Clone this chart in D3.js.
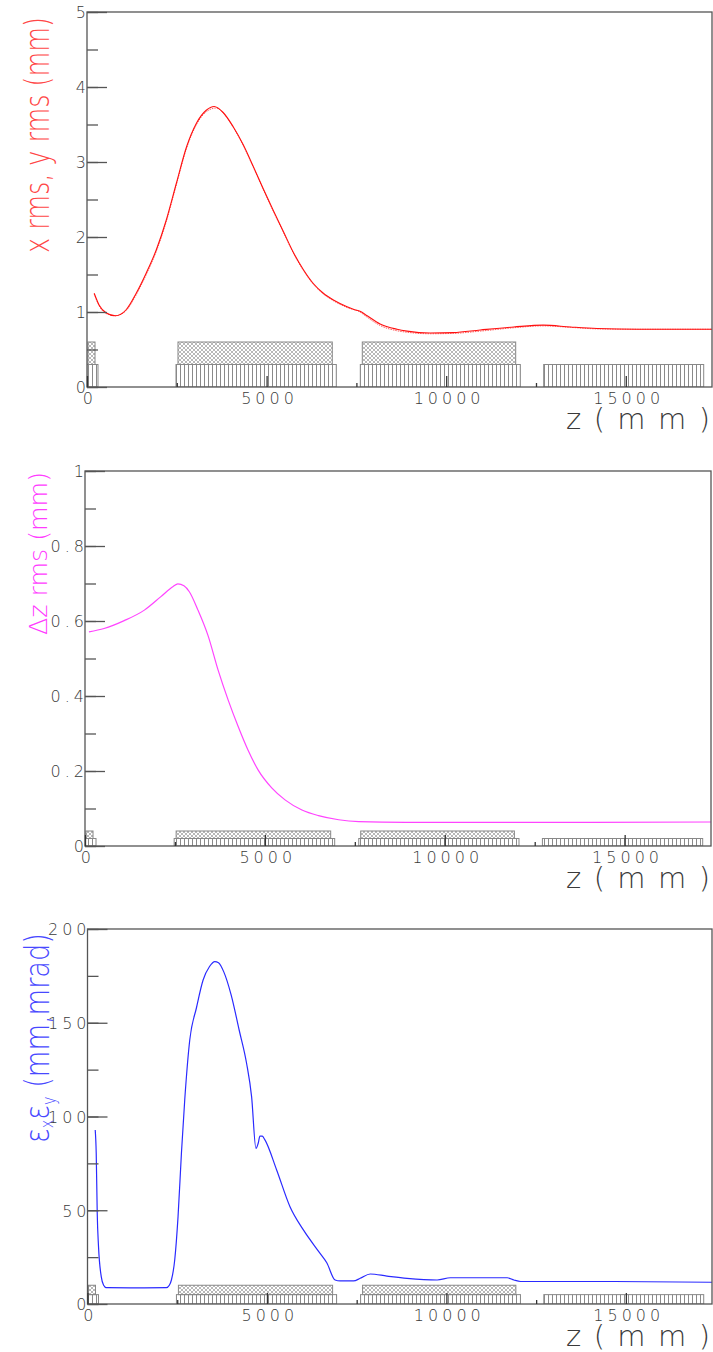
<!DOCTYPE html>
<html>
<head>
<meta charset="utf-8">
<script src="https://cdn.jsdelivr.net/npm/d3@7"></script>
<style>
  body { margin: 0; background: #fff; }
  svg { display: block; }
  .tick text { font-family: "DejaVu Sans", sans-serif; font-weight: 200; fill: #3a3a3a; }
</style>
</head>
<body>
<div id="chart"></div>
<script>
// ---- data ----
var zMajorTicks = [0, 5000, 10000, 15000];
var zMinorTicks = [2500, 7500, 12500];

// beamline elements (z from, z to)
var stripedBoxes = [[0, 306], [2478, 6940], [7609, 12063], [12714, 17169]];
var hatchedBoxes = [[28, 223], [2533, 6829], [7664, 11935]];

var xRms = [[200,1.25],[340,1.09],[530,0.99],[790,0.95],[1090,1.03],[1370,1.25],[1650,1.52],[1930,1.83],
  [2210,2.23],[2490,2.72],[2770,3.20],[3050,3.52],[3320,3.69],[3540,3.74],[3790,3.66],[4070,3.47],
  [4350,3.23],[4630,2.94],[4910,2.64],[5190,2.35],[5470,2.07],[5750,1.79],[6030,1.56],[6300,1.38],
  [6580,1.25],[6860,1.16],[7240,1.07],[7450,1.03],[7600,1.01],[7800,0.95],[8160,0.84],[8630,0.77],
  [8910,0.745],[9550,0.72],[10200,0.725],[10950,0.76],[11880,0.80],[12700,0.825],[13460,0.80],
  [14200,0.78],[15330,0.77],[16070,0.77],[17400,0.77]];

var yRms = [[200,1.24],[340,1.08],[530,0.98],[790,0.95],[1090,1.02],[1370,1.23],[1650,1.50],[1930,1.81],
  [2210,2.21],[2490,2.70],[2770,3.18],[3050,3.50],[3320,3.67],[3600,3.72],[3850,3.62],[4100,3.44],
  [4350,3.22],[4630,2.93],[4910,2.63],[5190,2.34],[5470,2.06],[5750,1.78],[6030,1.55],[6300,1.37],
  [6580,1.24],[6860,1.15],[7240,1.06],[7600,1.00],[7800,0.93],[8160,0.82],[8630,0.75],[8910,0.73],
  [9550,0.71],[10200,0.715],[10950,0.745],[11880,0.79],[12700,0.815],[13460,0.795],[14200,0.775],
  [15330,0.77],[16070,0.77],[17400,0.77]];

var dzRms = [[110,0.571],[530,0.580],[1090,0.601],[1650,0.629],[2110,0.665],[2450,0.692],[2580,0.699],
  [2750,0.694],[2900,0.678],[3140,0.629],[3420,0.561],[3700,0.469],[3980,0.389],[4260,0.318],
  [4530,0.256],[4810,0.203],[5190,0.155],[5560,0.123],[6030,0.096],[6490,0.081],[7050,0.070],
  [7610,0.065],[8910,0.063],[12000,0.063],[17400,0.064]];

var emittance = [[215,92.8],[243,80.4],[271,48.4],[307,30.6],[383,14.6],[450,10],[522,8.7],[1200,8.6],
  [2198,8.7],[2280,10],[2338,12.8],[2430,23.5],[2523,46.6],[2617,80.4],[2709,108.8],[2849,140.8],
  [3036,158],[3221,172.8],[3400,180],[3547,182.6],[3650,182],[3800,177],[4000,165],[4227,146],
  [4432,128.4],[4572,110.6],[4693,83.0],[4760,86],[4804,89.6],[4870,89.5],[4944,87.5],[5270,71.5],
  [5642,51.9],[6015,39.5],[6480,27.0],[6667,22.0],[6899,12.8],[7039,12.3],[7412,12.3],[7598,13.7],
  [7877,16],[8343,14.9],[8902,13.7],[9740,12.8],[10112,14],[10950,14],[11695,14],[11880,12.8],
  [12067,12],[14674,12],[17400,11.6]];

var yTickLabels1 = [0, 1, 2, 3, 4, 5];
var yTickLabels2 = [0, 0.2, 0.4, 0.6, 0.8, 1];
var yTickLabels3 = [0, 50, 100, 150, 200];

// ---- layout ----
var width = 713, height = 1352;
var zMax = 17400;

var panels = [
  { top: 12, bottom: 387, left: 87, right: 712, yMax: 5, major: yTickLabels1, minorStep: 0.5,
    boxTop: [0.3, 0.6], fmt: d3.format('d'),
    curves: [{ data: xRms, color: '#ff1010', dash: null, width: 1.1 },
             { data: yRms, color: '#ff6060', dash: '1.5,1', width: 1 }] },
  { top: 471, bottom: 846, left: 85, right: 711, yMax: 1, major: yTickLabels2, minorStep: 0.1,
    boxTop: [0.02, 0.04], fmt: function(d) { return d === 0 || d === 1 ? d : d3.format('.1f')(d); },
    curves: [{ data: dzRms, color: '#ff44ff', dash: null, width: 1.2 }] },
  { top: 929, bottom: 1304, left: 87.5, right: 712, yMax: 200, major: yTickLabels3, minorStep: 25,
    boxTop: [5, 10], fmt: d3.format('d'),
    curves: [{ data: emittance, color: '#2a2aff', dash: null, width: 1.2 }] }
];

var svg = d3.select('#chart').append('svg')
  .attr('width', width)
  .attr('height', height);

var defs = svg.append('defs');

var stripes = defs.append('pattern')
  .attr('id', 'stripes')
  .attr('patternUnits', 'userSpaceOnUse')
  .attr('width', 4)
  .attr('height', 4);
stripes.append('line')
  .attr('x1', 0.5).attr('y1', 0).attr('x2', 0.5).attr('y2', 4)
  .attr('stroke', '#8a8a8a').attr('stroke-width', 1);

var hatch = defs.append('pattern')
  .attr('id', 'hatch')
  .attr('patternUnits', 'userSpaceOnUse')
  .attr('width', 4)
  .attr('height', 4);
hatch.append('path')
  .attr('d', 'M0,0 L4,4 M4,0 L0,4')
  .attr('stroke', '#9a9a9a').attr('stroke-width', 0.7).attr('fill', 'none');

panels.forEach(function(p, i) {
  var x = d3.scaleLinear().domain([0, zMax]).range([p.left, p.right]);
  var y = d3.scaleLinear().domain([0, p.yMax]).range([p.bottom, p.top]);
  var g = svg.append('g').attr('class', 'panel' + i);

  defs.append('clipPath').attr('id', 'clip' + i)
    .append('rect')
    .attr('x', p.left).attr('y', p.top)
    .attr('width', p.right - p.left).attr('height', p.bottom - p.top);

  // beamline elements
  var el = g.append('g').attr('clip-path', 'url(#clip' + i + ')');
  el.selectAll('rect.striped')
    .data(stripedBoxes)
    .enter()
    .append('rect')
    .attr('class', 'striped')
    .attr('x', function(d) { return x(d[0]); })
    .attr('y', y(p.boxTop[0]))
    .attr('width', function(d) { return x(d[1]) - x(d[0]); })
    .attr('height', y(0) - y(p.boxTop[0]))
    .attr('fill', 'url(#stripes)')
    .attr('stroke', '#888')
    .attr('stroke-width', 1);
  el.selectAll('rect.hatched')
    .data(hatchedBoxes)
    .enter()
    .append('rect')
    .attr('class', 'hatched')
    .attr('x', function(d) { return x(d[0]); })
    .attr('y', y(p.boxTop[1]))
    .attr('width', function(d) { return x(d[1]) - x(d[0]); })
    .attr('height', y(p.boxTop[0]) - y(p.boxTop[1]))
    .attr('fill', 'url(#hatch)')
    .attr('stroke', '#888')
    .attr('stroke-width', 1);

  // curves
  var line = d3.line()
    .x(function(d) { return x(d[0]); })
    .y(function(d) { return y(d[1]); })
    .curve(d3.curveMonotoneX);
  p.curves.slice().reverse().forEach(function(c) {
    el.append('path')
      .datum(c.data)
      .attr('d', line)
      .attr('fill', 'none')
      .attr('stroke', c.color)
      .attr('stroke-width', c.width)
      .attr('stroke-dasharray', c.dash);
  });

  // frame
  g.append('rect')
    .attr('x', p.left).attr('y', p.top)
    .attr('width', p.right - p.left).attr('height', p.bottom - p.top)
    .attr('fill', 'none')
    .attr('stroke', '#555')
    .attr('stroke-width', 1.3);

  // y axis: minor then major
  var minorVals = d3.range(0, p.yMax + p.minorStep / 2, p.minorStep);
  g.append('g')
    .attr('transform', 'translate(' + p.left + ',0)')
    .call(d3.axisLeft(y).tickValues(minorVals).tickSize(-11).tickFormat(''))
    .call(function(a) { a.select('.domain').remove(); a.selectAll('line').attr('stroke', '#555').attr('stroke-width', 1.3); });

  var yAx = g.append('g')
    .attr('transform', 'translate(' + p.left + ',0)')
    .call(d3.axisLeft(y).tickValues(p.major).tickSize(-20).tickPadding(-3).tickFormat(p.fmt))
    .call(function(a) { a.select('.domain').remove(); a.selectAll('line').attr('stroke', '#555').attr('stroke-width', 1.3); });
  yAx.selectAll('text')
    .attr('font-size', 16)
    .attr('letter-spacing', 4)
    .attr('dy', '0.36em');

  // x axis: ticks drawn inward from the bottom
  g.append('g')
    .attr('transform', 'translate(0,' + p.bottom + ')')
    .call(d3.axisBottom(x).tickValues(zMinorTicks).tickSize(-4).tickFormat(''))
    .call(function(a) { a.select('.domain').remove(); a.selectAll('line').attr('stroke', '#333').attr('stroke-width', 1.3); });

  var xAx = g.append('g')
    .attr('transform', 'translate(0,' + p.bottom + ')')
    .call(d3.axisBottom(x).tickValues(zMajorTicks).tickSize(-11).tickPadding(6).tickFormat(d3.format('d')))
    .call(function(a) { a.select('.domain').remove(); a.selectAll('line').attr('stroke', '#333').attr('stroke-width', 1.3); });
  xAx.selectAll('text')
    .attr('font-size', 16)
    .attr('letter-spacing', 4)
    .attr('dx', '0.15em');

  // x title
  g.append('text')
    .attr('x', 566)
    .attr('y', p.bottom + 42)
    .attr('textLength', 144)
    .attr('lengthAdjust', 'spacing')
    .attr('font-family', 'DejaVu Sans, sans-serif')
    .attr('font-weight', 200)
    .attr('font-size', 29)
    .attr('fill', '#3a3a3a')
    .text('z(mm)');
});

// y titles
function yTitle(xb, yStart, len, size, color) {
  return svg.append('text')
    .attr('transform', 'translate(' + xb + ',' + yStart + ') rotate(-90)')
    .attr('textLength', len)
    .attr('lengthAdjust', 'spacingAndGlyphs')
    .attr('font-family', 'DejaVu Sans, sans-serif')
    .attr('font-weight', 200)
    .attr('font-size', size)
    .attr('fill', color);
}

yTitle(49, 253, 236, 34, '#ff4646').text('x rms, y rms (mm)');
yTitle(47, 635, 163, 25, '#ff3cff').text('\u0394z rms (mm)');

var t3 = yTitle(49, 1143, 210, 34, '#4848ff');
t3.append('tspan').text('\u03b5');
t3.append('tspan').attr('font-size', 18).attr('dy', 4).text('x');
t3.append('tspan').attr('dy', -4).text('\u03b5');
t3.append('tspan').attr('font-size', 18).attr('dy', 6).text('y');
t3.append('tspan').attr('dy', -6).text(' (mm,mrad)');
</script>
</body>
</html>
